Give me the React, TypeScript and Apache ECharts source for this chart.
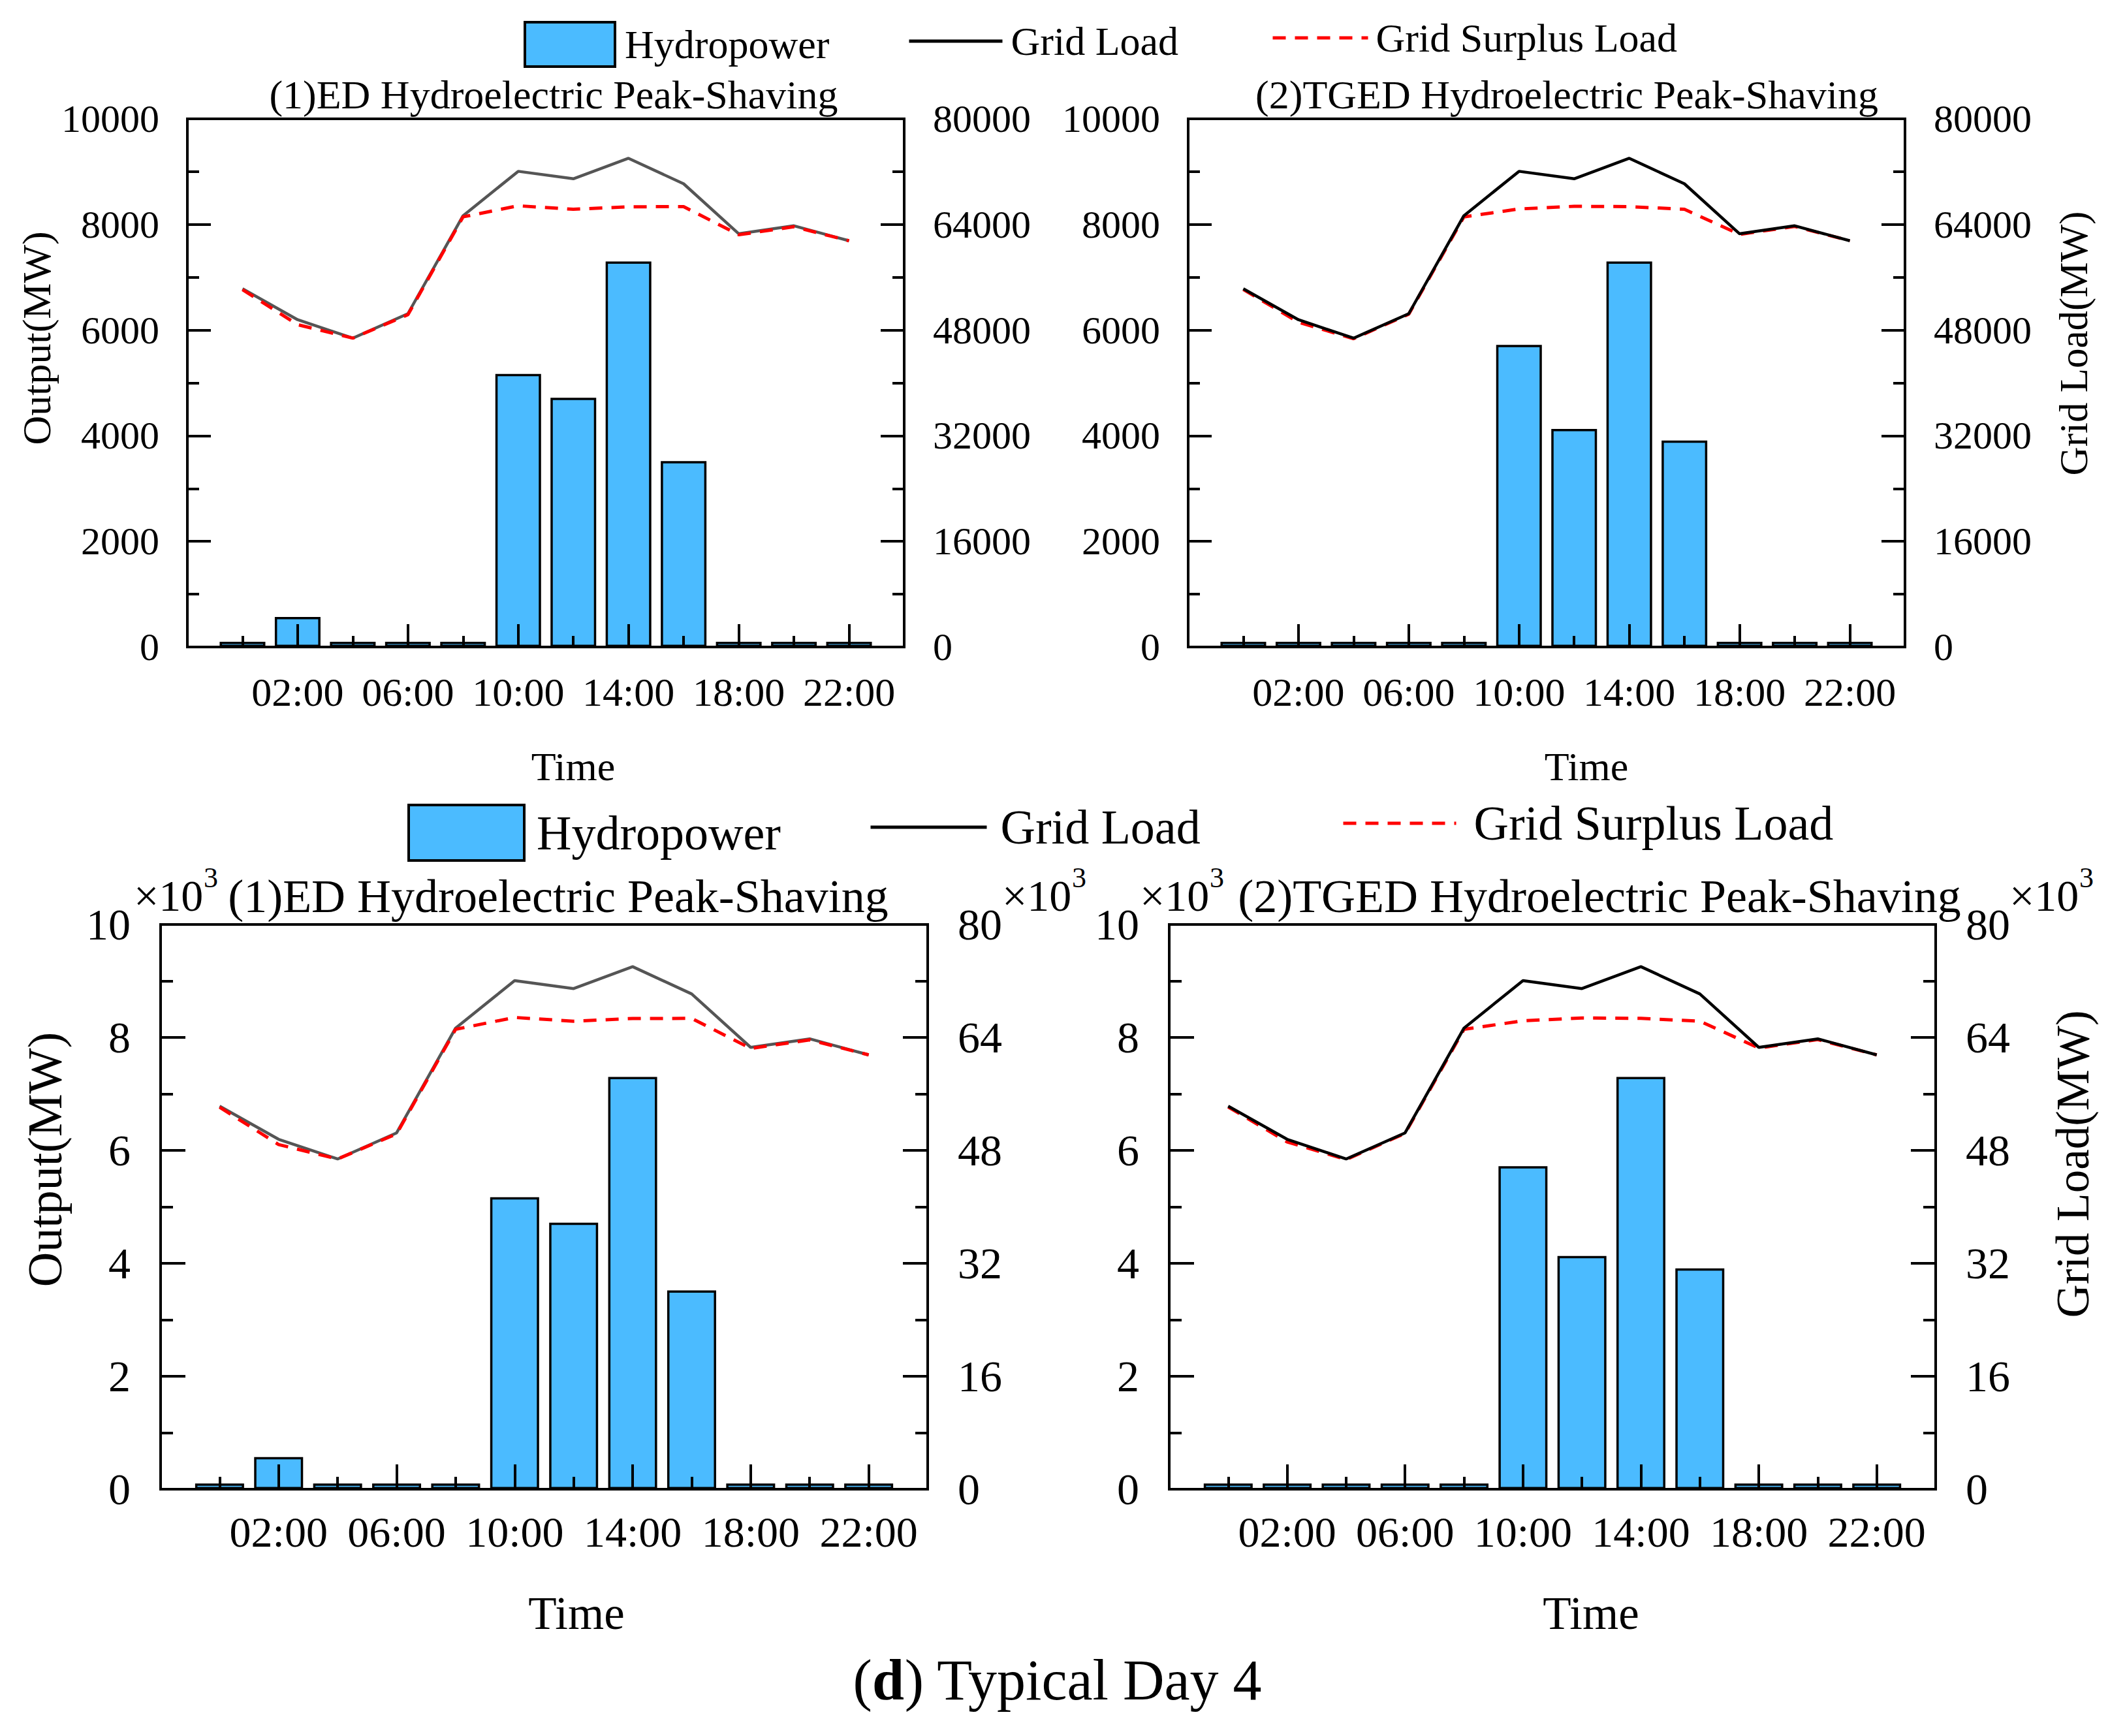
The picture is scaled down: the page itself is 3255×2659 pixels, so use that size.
import React, { useEffect, useRef } from 'react';
import * as echarts from 'echarts';

// ---------------- data ----------------
const HOURS = [0, 2, 4, 6, 8, 10, 12, 14, 16, 18, 20, 22];
const TIME_LABELS: Record<number, string> = { 2: '02:00', 6: '06:00', 10: '10:00', 14: '14:00', 18: '18:00', 22: '22:00' };

const HYDRO_ED = [100, 570, 100, 100, 100, 5170, 4720, 7300, 3520, 100, 100, 100];
const HYDRO_TGED = [100, 100, 100, 100, 100, 5720, 4130, 7300, 3910, 100, 100, 100];

const GRID_LOAD = [54270, 49570, 46780, 50480, 65320, 72050, 70920, 74020, 70160, 62590, 63800, 61530];
const SURPLUS_ED = [54120, 48820, 46780, 50330, 65150, 66830, 66300, 66680, 66700, 62440, 63650, 61530];
const SURPLUS_TGED = [54150, 49200, 46700, 50400, 65150, 66350, 66750, 66700, 66300, 62500, 63700, 61530];

const TITLES = ['(1)ED Hydroelectric Peak-Shaving', '(2)TGED Hydroelectric Peak-Shaving'];
const LEGEND_NAMES = ['Hydropower', 'Grid Load', 'Grid Surplus Load'];

const FONT = 'Liberation Serif';
const BAR_COLOR = '#4BBBFF';
const RED_DASH = [20, 14];

function App() {
  const ref = useRef<HTMLDivElement>(null);

  useEffect(() => {
    if (!ref.current) return;
    const chart = echarts.init(ref.current, undefined, { renderer: 'svg' });

    const grids = [
      { left: 287, top: 182, width: 1098, height: 809 },
      { left: 1820, top: 182, width: 1098, height: 809 },
      { left: 246, top: 1416, width: 1175, height: 865 },
      { left: 1791, top: 1416, width: 1174, height: 865 },
    ];

    const black = { color: '#000', width: 4 };
    const xAxis: any[] = [];
    const yAxis: any[] = [];
    grids.forEach((g, gi) => {
      const big = gi >= 2;
      xAxis.push({
        type: 'value', gridIndex: gi, position: 'bottom', min: -2, max: 24, interval: 4, z: 5,
        axisLine: { show: true, onZero: false, lineStyle: black },
        axisTick: { show: true, inside: true, length: big ? 38 : 35, lineStyle: black },
        axisLabel: {
          show: true, fontFamily: FONT, fontSize: big ? 66 : 62, color: '#000', margin: big ? 32 : 38,
          formatter: (v: number) => TIME_LABELS[v] || '',
        },
        splitLine: { show: false },
      });
      xAxis.push({
        type: 'value', gridIndex: gi, position: 'bottom', min: -2, max: 24, interval: 2, z: 5,
        axisLine: { show: true, onZero: false, lineStyle: black },
        axisTick: { show: true, inside: true, length: big ? 19 : 17, lineStyle: black },
        axisLabel: { show: false },
        splitLine: { show: false },
      });
      const tickLen = big ? 38 : 36;
      const minorLen = big ? 19 : 18;
      yAxis.push({
        type: 'value', gridIndex: gi, position: 'left', min: 0, max: 10000, interval: 2000, z: 5,
        axisLine: { show: true, onZero: false, lineStyle: black },
        axisTick: { show: true, inside: true, length: tickLen, lineStyle: black },
        minorTick: { show: true, splitNumber: 2, length: minorLen, lineStyle: black },
        axisLabel: {
          fontFamily: FONT, fontSize: big ? 68 : 60, color: '#000', margin: big ? 46 : 43,
          formatter: (v: number) => (big ? String(v / 1000) : String(v)),
        },
        splitLine: { show: false },
        minorSplitLine: { show: false },
      });
      yAxis.push({
        type: 'value', gridIndex: gi, position: 'right', min: 0, max: 80000, interval: 16000, z: 5,
        axisLine: { show: true, onZero: false, lineStyle: black },
        axisTick: { show: true, inside: true, length: tickLen, lineStyle: black },
        minorTick: { show: true, splitNumber: 2, length: minorLen, lineStyle: black },
        axisLabel: {
          fontFamily: FONT, fontSize: big ? 68 : 60, color: '#000', margin: big ? 46 : 44,
          formatter: (v: number) => (big ? String(v / 1000) : String(v)),
        },
        splitLine: { show: false },
        minorSplitLine: { show: false },
      });
    });

    const pairs = (vals: number[]) => HOURS.map((h, i) => [h, vals[i]]);
    const series: any[] = [];
    // order: TGED panels first so legend icons take the black line
    [1, 0, 3, 2].forEach((gi) => {
      const big = gi >= 2;
      const ed = gi % 2 === 0;
      const hydro = ed ? HYDRO_ED : HYDRO_TGED;
      const surplus = ed ? SURPLUS_ED : SURPLUS_TGED;
      const loadColor = ed ? '#555555' : '#000000';
      series.push({
        type: 'bar', name: LEGEND_NAMES[0], xAxisIndex: gi * 2, yAxisIndex: gi * 2,
        data: pairs(hydro), barWidth: big ? 75 : 70, z: 2,
        itemStyle: { color: BAR_COLOR, borderColor: '#000', borderWidth: 3.5 },
      });
      const loadS = {
        type: 'line', name: LEGEND_NAMES[1], xAxisIndex: gi * 2, yAxisIndex: gi * 2 + 1,
        data: pairs(GRID_LOAD), symbol: 'none', z: 3,
        lineStyle: { color: loadColor, width: 4.5 }, itemStyle: { color: loadColor },
      };
      const surS = {
        type: 'line', name: LEGEND_NAMES[2], xAxisIndex: gi * 2, yAxisIndex: gi * 2 + 1,
        data: pairs(surplus), symbol: 'none', z: 3,
        lineStyle: { color: '#FF0000', width: 5, type: RED_DASH }, itemStyle: { color: '#FF0000' },
      };
      if (ed) series.push(loadS, surS);
      else series.push(surS, loadS);
    });

    const legendBase = (idx: number, left: number, top: number, w: number, h: number, fs: number, pad: number) => {
      const name = LEGEND_NAMES[idx];
      const l: any = {
        data: [name], left, top, itemWidth: w, itemHeight: h, padding: 0, orient: 'horizontal',
        selectedMode: false,
        textStyle: { fontFamily: FONT, fontSize: fs, color: '#000', padding: [0, 0, 0, pad] },
      };
      if (idx === 0) {
        l.icon = 'rect';
        l.itemStyle = { color: BAR_COLOR, borderColor: '#000', borderWidth: 4 };
      } else {
        l.itemStyle = { opacity: 0, color: 'transparent', borderWidth: 0 };
        l.lineStyle = idx === 1
          ? { color: '#000', width: 5, type: 'solid' }
          : { color: '#FF0000', width: 5, type: RED_DASH };
      }
      return l;
    };
    const legend = [
      legendBase(0, 802, 32, 138, 68, 62, 10),
      legendBase(1, 1390, 32, 143, 68, 62, 8),
      legendBase(2, 1947, 27, 146, 68, 62, 7),
      legendBase(0, 624, 1231, 177, 85, 74, 14),
      legendBase(1, 1331, 1230, 178, 85, 74, 16),
      legendBase(2, 2055, 1224, 173, 85, 74, 22),
    ];

    const txt = (text: string, x: number, y: number, size: number, align = 'center', rot = 0) => ({
      type: 'text', x, y, rotation: rot, z: 10,
      style: {
        text, fill: '#000', font: `${size}px "${FONT}"`,
        textAlign: align, textVerticalAlign: 'middle', align, verticalAlign: 'middle',
      },
    });
    const R = Math.PI / 2;
    const graphic: any[] = [
      txt(TITLES[0], 848, 145, 62),
      txt(TITLES[1], 2400, 145, 62),
      txt(TITLES[0], 855, 1373, 72),
      txt(TITLES[1], 2450, 1373, 72),
      txt('Time', 878, 1174, 62),
      txt('Time', 2430, 1174, 62),
      txt('Time', 883, 2471, 71),
      txt('Time', 2437, 2471, 71),
      txt('Output(MW)', 56, 518, 62, 'center', R),
      txt('Grid Load(MW)', 3176, 526, 61, 'center', R),
      txt('Output(MW)', 69, 1776, 74, 'center', R),
      txt('Grid Load(MW)', 3175, 1783, 71, 'center', R),
    ];
    [205, 1535, 1746, 3078].forEach((x) => {
      graphic.push(txt('\u00D710', x, 1372, 68, 'left'));
      graphic.push(txt('3', x + 107, 1344, 44, 'left'));
    });
    graphic.push({
      type: 'text', x: 1620, y: 2573, z: 10,
      style: {
        text: '{n|(}{b|d}{n|) Typical Day 4}',
        textAlign: 'center', textVerticalAlign: 'middle', align: 'center', verticalAlign: 'middle',
        font: `88px "${FONT}"`, fill: '#000',
        rich: {
          n: { fontFamily: FONT, fontSize: 88, fill: '#000', color: '#000' },
          b: { fontFamily: FONT, fontSize: 88, fontWeight: 'bold', fill: '#000', color: '#000' },
        },
      },
    });

    chart.setOption({
      animation: false,
      backgroundColor: '#fff',
      textStyle: { fontFamily: FONT },
      grid: grids.map((g) => ({ ...g, show: true, borderColor: '#000', borderWidth: 4, backgroundColor: 'transparent', containLabel: false })),
      xAxis,
      yAxis,
      legend,
      series,
      graphic,
    });

    return () => chart.dispose();
  }, []);

  return <div ref={ref} style={{ position: 'absolute', left: 0, top: 0, width: 3255, height: 2659, background: '#fff' }} />;
}

export default App;
